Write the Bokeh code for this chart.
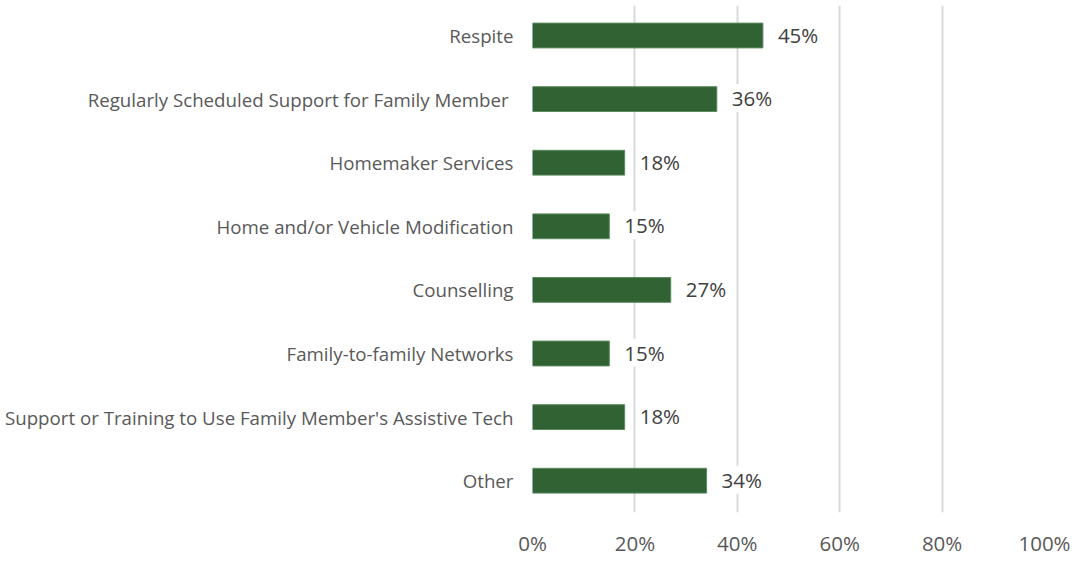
from bokeh.plotting import figure
from bokeh.models import ColumnDataSource, FixedTicker, LabelSet
from bokeh.core.properties import value
from bokeh.embed import file_html
from bokeh.resources import INLINE

categories = ["Respite", "Regularly Scheduled Support for Family Member ", "Homemaker Services",
              "Home and/or Vehicle Modification", "Counselling", "Family-to-family Networks",
              "Support or Training to Use Family Member's Assistive Tech", "Other"]
values = [45, 36, 18, 15, 27, 15, 18, 34]
x_ticks = [0, 20, 40, 60, 80, 100]

n = len(categories)
ypos = [n - 1 - i for i in range(n)]
src = ColumnDataSource(dict(y=ypos, v=values, lab=[f"{v}%" for v in values]))

FONT = "Open Sans"
p = figure(width=1072, height=565, output_backend="svg", toolbar_location=None,
           x_range=(0, 100), y_range=(-0.5, n - 0.528),
           min_border_left=532, min_border_right=28, min_border_top=5, min_border_bottom=53)
p.outline_line_color = None
p.hbar(y="y", right="v", left=0, height=0.39, source=src, fill_color="#316234",
       line_color="#5a8a5e", line_width=1)

labels = LabelSet(x="v", y="y", text="lab", source=src, x_offset=15, y_offset=1,
                  text_baseline="middle",
                  text_font=value(FONT), text_font_size="20.5px", text_color="#404040",
                  background_fill_color="white", border_line_color=None)
p.add_layout(labels)

p.xaxis.ticker = FixedTicker(ticks=x_ticks)
p.xaxis.major_label_overrides = {t: f"{t}%" for t in x_ticks}
p.xaxis.axis_line_color = None
p.xaxis.major_tick_line_color = None
p.xaxis.minor_tick_line_color = None
p.xaxis.major_tick_out = 0
p.xaxis.major_tick_in = 0
p.xaxis.major_label_text_font = FONT
p.xaxis.major_label_text_font_size = "20.5px"
p.xaxis.major_label_text_color = "#595959"
p.xaxis.major_label_standoff = 16

p.yaxis.ticker = FixedTicker(ticks=ypos)
p.yaxis.major_label_overrides = {y: c for y, c in zip(ypos, categories)}
p.yaxis.axis_line_color = None
p.yaxis.major_tick_line_color = None
p.yaxis.minor_tick_line_color = None
p.yaxis.major_tick_out = 0
p.yaxis.major_tick_in = 0
p.yaxis.major_label_text_font = FONT
p.yaxis.major_label_text_font_size = "18.7px"
p.yaxis.major_label_text_color = "#595959"
p.yaxis.major_label_standoff = 19

p.ygrid.grid_line_color = None
p.xgrid.grid_line_color = "#d9d9d9"
p.xgrid.grid_line_width = 2

open("out.html", "w").write(file_html(p, INLINE))
